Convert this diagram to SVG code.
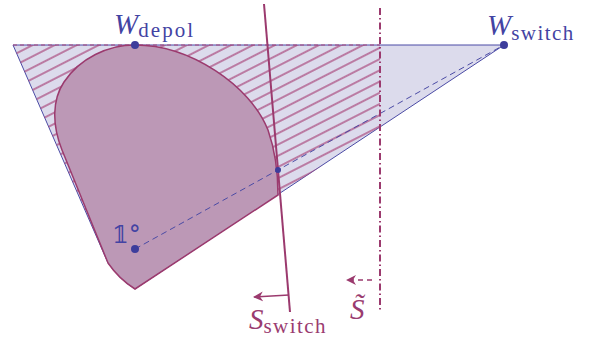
<svg xmlns="http://www.w3.org/2000/svg" width="598" height="340" viewBox="0 0 598 340">
<style>
.blue{fill:#3d3d9c}
.btxt{fill:#4343a3}
.ptxt{fill:#9a3c70}
.pline{stroke:#9b3a6e;fill:none}
</style>
<defs>
<pattern id="hatch" width="10" height="10" patternUnits="userSpaceOnUse" patternTransform="rotate(-27)">
<line x1="-2" y1="5" x2="12" y2="5" stroke="#a8467c" stroke-width="1.3"/>
</pattern>
<clipPath id="hclip"><path d="M13,45 L380,45 L380,127.5 L135,289 L108,263 Z"/></clipPath>
<marker id="arr" viewBox="0 0 10 10" refX="9" refY="5" markerWidth="10" markerHeight="10" markerUnits="userSpaceOnUse" orient="auto">
<path d="M0,0 L10,5 L0,10 L3,5 Z" fill="#9b3a6e"/>
</marker>
</defs>
<g id="region-light">
<path d="M13,45 L504,45 L135,289 Q120,280 108,263 Z" fill="#dcdbec" stroke="#4b4ba5" stroke-width="1"/>
</g>
<g id="region-hatched">
<rect x="0" y="30" width="400" height="280" fill="url(#hatch)" clip-path="url(#hclip)"/>
<path d="M13,45 L380,45" stroke="#a8467c" stroke-width="1" stroke-dasharray="4 3" fill="none"/>
</g>
<g id="region-purple">
<path d="M135,45 C190,45 250,85 268,130 C275,150 278,172 278,195 L135,289 Q119,279 108,263 L62,150 C52,125 52,100 64,82 C80,58 108,45 135,45 Z" fill="#bc98b6" stroke="#9b3a6e" stroke-width="1.5"/>
</g>
<g id="connectors">
<line x1="135" y1="249" x2="504" y2="45" stroke="#4b4ba5" stroke-width="1" stroke-dasharray="6 4"/>
<line class="pline" x1="264" y1="4" x2="290" y2="312" stroke-width="2"/>
<line class="pline" x1="289" y1="295" x2="254" y2="297" stroke-width="1.5" marker-end="url(#arr)"/>
<line class="pline" x1="380" y1="8" x2="380" y2="312" stroke-width="2" stroke-dasharray="7 3 1.5 3"/>
<line class="pline" x1="372" y1="280" x2="347" y2="280" stroke-width="1.5" stroke-dasharray="5 4" marker-end="url(#arr)"/>
</g>
<g id="node-wdepol">
<circle class="blue" cx="135" cy="45" r="4"/>
<text class="btxt" x="114" y="34" style="font-family:'Liberation Serif',serif"><tspan font-style="italic" font-size="29">W</tspan><tspan font-size="21" dy="3" textLength="55" lengthAdjust="spacing">depol</tspan></text>
</g>
<g id="node-wswitch">
<circle class="blue" cx="504" cy="45" r="4"/>
<text class="btxt" x="487" y="35" style="font-family:'Liberation Serif',serif"><tspan font-style="italic" font-size="29">W</tspan><tspan font-size="21" dy="5" textLength="62" lengthAdjust="spacing">switch</tspan></text>
</g>
<g id="node-one">
<circle class="blue" cx="135" cy="249" r="4"/>
<text class="btxt" x="112" y="243" font-size="24" style="font-family:'DejaVu Serif',serif">𝟙°</text>
</g>
<g id="node-intersection">
<circle class="blue" cx="278" cy="170" r="3"/>
</g>
<g id="label-sswitch">
<text class="ptxt" x="249" y="329" style="font-family:'Liberation Serif',serif"><tspan font-style="italic" font-size="29">S</tspan><tspan font-size="21" dy="4" textLength="62" lengthAdjust="spacing">switch</tspan></text>
</g>
<g id="label-stilde">
<text class="ptxt" x="350" y="319" font-size="29" font-style="italic" style="font-family:'Liberation Serif',serif">S̃</text>
</g>
</svg>
